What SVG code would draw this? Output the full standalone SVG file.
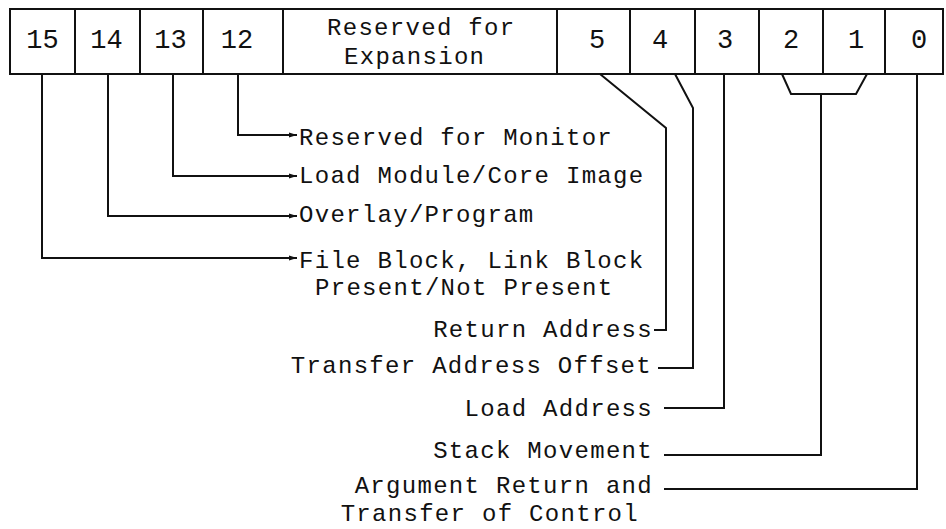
<svg xmlns="http://www.w3.org/2000/svg" width="946" height="529" viewBox="0 0 946 529">
  <style>
    .frame { fill: #ffffff; stroke: #111111; stroke-width: 2; }
    .sep { stroke: #111111; stroke-width: 2; }
    .wire { fill: none; stroke: #111111; stroke-width: 2; stroke-linejoin: miter; }
    .num { font-family: "Liberation Mono", "Courier New", monospace; font-size: 27px; fill: #111111; text-anchor: middle; }
    .lbl { font-family: "Liberation Mono", "Courier New", monospace; font-size: 24px; letter-spacing: 1.3px; fill: #111111; }
    .end { text-anchor: end; }
  </style>
  <defs>
    <marker id="tip" markerUnits="userSpaceOnUse" markerWidth="9" markerHeight="6" refX="8" refY="3" orient="auto">
      <path d="M0 0.6 L8 3 L0 5.4 Z" fill="#111111"/>
    </marker>
  </defs>

  <rect width="946" height="529" fill="#ffffff"/>

  <!-- 16-bit word: one cell per field -->
  <g id="word">
    <rect class="frame" x="10" y="9" width="933" height="65"/>
    <line class="sep" x1="75" y1="9" x2="75" y2="74"/>
    <line class="sep" x1="140" y1="9" x2="140" y2="74"/>
    <line class="sep" x1="203" y1="9" x2="203" y2="74"/>
    <line class="sep" x1="283" y1="9" x2="283" y2="74"/>
    <line class="sep" x1="557" y1="9" x2="557" y2="74"/>
    <line class="sep" x1="630" y1="9" x2="630" y2="74"/>
    <line class="sep" x1="695" y1="9" x2="695" y2="74"/>
    <line class="sep" x1="759" y1="9" x2="759" y2="74"/>
    <line class="sep" x1="823" y1="9" x2="823" y2="74"/>
    <line class="sep" x1="885" y1="9" x2="885" y2="74"/>
  </g>
  <g id="bit15"><text class="num" x="42.5" y="48">15</text></g>
  <g id="bit14"><text class="num" x="106.5" y="48">14</text></g>
  <g id="bit13"><text class="num" x="170.5" y="48">13</text></g>
  <g id="bit12"><text class="num" x="237" y="48">12</text></g>
  <g id="bits6to11">
    <text class="lbl"><tspan x="327" y="35">Reserved for</tspan><tspan x="344" y="64">Expansion</tspan></text>
  </g>
  <g id="bit5"><text class="num" x="597" y="48">5</text></g>
  <g id="bit4"><text class="num" x="660" y="48">4</text></g>
  <g id="bit3"><text class="num" x="725" y="48">3</text></g>
  <g id="bit2"><text class="num" x="791" y="48">2</text></g>
  <g id="bit1"><text class="num" x="856" y="48">1</text></g>
  <g id="bit0"><text class="num" x="919" y="48">0</text></g>

  <!-- field descriptions -->
  <g id="label-monitor"><text class="lbl" x="299" y="145">Reserved for Monitor</text></g>
  <g id="label-loadmodule"><text class="lbl" x="299" y="183">Load Module/Core Image</text></g>
  <g id="label-overlay"><text class="lbl" x="299" y="222">Overlay/Program</text></g>
  <g id="label-fileblock">
    <text class="lbl"><tspan x="299" y="268">File Block, Link Block</tspan><tspan x="315" y="295">Present/Not Present</tspan></text>
  </g>
  <g id="label-return"><text class="lbl end" x="653" y="337">Return Address</text></g>
  <g id="label-transfer"><text class="lbl end" x="652" y="373">Transfer Address Offset</text></g>
  <g id="label-loadaddr"><text class="lbl end" x="653" y="416">Load Address</text></g>
  <g id="label-stack"><text class="lbl end" x="653" y="458">Stack Movement</text></g>
  <g id="label-argument">
    <text class="lbl end"><tspan x="653" y="493">Argument Return and</tspan><tspan x="639" y="521">Transfer of Control</tspan></text>
  </g>

  <!-- leader lines from bits to descriptions -->
  <g id="connectors">
    <path class="wire" d="M238 74 V135 H297" marker-end="url(#tip)"/>
    <path class="wire" d="M173 74 V176 H297" marker-end="url(#tip)"/>
    <path class="wire" d="M108 74 V216 H297" marker-end="url(#tip)"/>
    <path class="wire" d="M42 74 V258 H297" marker-end="url(#tip)"/>
    <path class="wire" d="M600 74 L666 128 V330 H654"/>
    <path class="wire" d="M675 74 L693 108 V368 H658"/>
    <path class="wire" d="M724 74 V408 H664"/>
    <path class="wire" d="M782 74 L791 94 H856 L867 74"/>
    <path class="wire" d="M821 94 V455 H664"/>
    <path class="wire" d="M917 74 V489 H664"/>
  </g>
</svg>
